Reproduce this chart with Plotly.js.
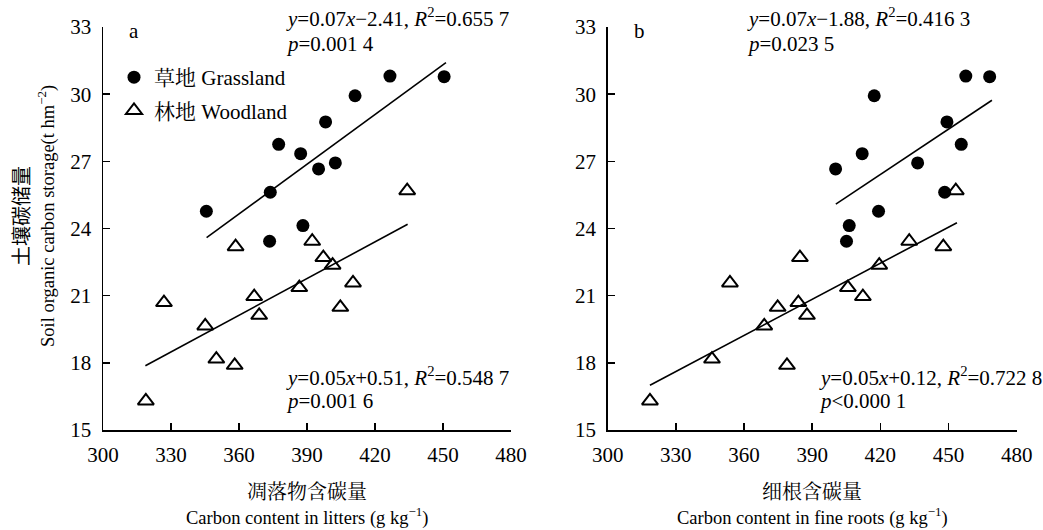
<!DOCTYPE html>
<html>
<head>
<meta charset="utf-8">
<script src="https://cdn.plot.ly/plotly-3.0.1.min.js"></script>
<style>html,body{margin:0;padding:0;background:#fff;}#chart{width:1043px;height:530px;}</style>
</head>
<body>
<div id="chart"></div>
<script>
// Soil organic carbon storage (t hm^-2)
const grassSOC   = [24.77, 23.43, 25.62, 27.76, 27.34, 24.13, 26.66, 28.76, 26.93, 29.93, 30.81, 30.78];
const grassLitter = [345.6, 373.5, 373.8, 377.5, 387.2, 388.2, 395.1, 398.2, 402.5, 411.2, 426.6, 450.5];
const grassRoot   = [419.2, 405.1, 448.3, 455.6, 412.0, 406.3, 400.3, 449.3, 436.4, 417.3, 457.6, 468.1];

const woodSOC    = [16.30, 20.69, 19.65, 18.17, 17.89, 23.19, 20.96, 20.12, 21.36, 23.43, 22.70, 22.36, 20.48, 21.57, 25.69];
const woodLitter = [318.9, 326.9, 345.1, 350.0, 358.1, 358.5, 366.7, 368.9, 386.6, 392.3, 397.2, 401.3, 404.7, 410.3, 434.2];
const woodRoot   = [318.6, 383.9, 368.9, 345.9, 378.9, 447.7, 412.3, 387.7, 405.7, 432.7, 384.6, 419.5, 374.8, 353.8, 453.2];

// regression lines as drawn (end points)
const fitGrassLitterX = [345.7, 451.3], fitGrassLitterY = [23.59, 31.41];
const fitWoodLitterX  = [318.7, 434.4], fitWoodLitterY  = [17.87, 24.19];
const fitGrassRootX   = [400.4, 469.1], fitGrassRootY   = [25.09, 29.73];
const fitWoodRootX    = [318.6, 453.7], fitWoodRootY    = [17.00, 24.26];

const xTicks = [300, 330, 360, 390, 420, 450, 480];
const yTicks = [15, 18, 21, 24, 27, 30, 33];

const seriesNames = ['草地 Grassland', '林地 Woodland'];
const eqA = ['<i>y</i>=0.07<i>x</i>−2.41, <i>R</i><sup>2</sup>=0.655 7', '<i>p</i>=0.001 4',
             '<i>y</i>=0.05<i>x</i>+0.51, <i>R</i><sup>2</sup>=0.548 7', '<i>p</i>=0.001 6'];
const eqB = ['<i>y</i>=0.07<i>x</i>−1.88, <i>R</i><sup>2</sup>=0.416 3', '<i>p</i>=0.023 5',
             '<i>y</i>=0.05<i>x</i>+0.12, <i>R</i><sup>2</sup>=0.722 8', '<i>p</i>&lt;0.000 1'];

const FONT = '"Liberation Serif", "Noto Serif CJK SC", "Noto Sans CJK SC", serif';
const CJK = '"Noto Sans CJK SC", "Liberation Serif", sans-serif';
const W = 1043, H = 530;
const px = v => v / W, py = v => 1 - v / H;

const circle = {symbol: 'circle', size: 13, color: '#000'};
const tri = {symbol: 'triangle-up-open', size: 14, color: '#000', line: {width: 2, color: '#000'}};
const lineStyle = {color: '#000', width: 1.6};

const traces = [
  {x: grassLitter, y: grassSOC, mode: 'markers', marker: circle, name: seriesNames[0], legendgroup: 'g', xaxis: 'x', yaxis: 'y'},
  {x: woodLitter, y: woodSOC, mode: 'markers', marker: tri, name: seriesNames[1], legendgroup: 'w', xaxis: 'x', yaxis: 'y'},
  {x: fitGrassLitterX, y: fitGrassLitterY, mode: 'lines', line: lineStyle, showlegend: false, xaxis: 'x', yaxis: 'y'},
  {x: fitWoodLitterX, y: fitWoodLitterY, mode: 'lines', line: lineStyle, showlegend: false, xaxis: 'x', yaxis: 'y'},
  {x: grassRoot, y: grassSOC, mode: 'markers', marker: circle, showlegend: false, xaxis: 'x2', yaxis: 'y2'},
  {x: woodRoot, y: woodSOC, mode: 'markers', marker: tri, showlegend: false, xaxis: 'x2', yaxis: 'y2'},
  {x: fitGrassRootX, y: fitGrassRootY, mode: 'lines', line: lineStyle, showlegend: false, xaxis: 'x2', yaxis: 'y2'},
  {x: fitWoodRootX, y: fitWoodRootY, mode: 'lines', line: lineStyle, showlegend: false, xaxis: 'x2', yaxis: 'y2'}
];

const axCommon = {
  showline: true, linecolor: '#000', linewidth: 1.5, mirror: false,
  ticks: 'inside', ticklen: 7, tickwidth: 1.5, tickcolor: '#000',
  showgrid: false, zeroline: false, fixedrange: true,
  tickfont: {family: FONT, size: 21, color: '#000'}
};
const xAx = Object.assign({}, axCommon, {range: [300, 480], tickvals: xTicks, ticktext: xTicks.map(String), ticklabelstandoff: 5});
const yAx = Object.assign({}, axCommon, {range: [15, 33], tickvals: yTicks, ticktext: yTicks.map(String), ticklabelstandoff: 6});

const txt = (x, y, text, extra) => Object.assign({xref: 'paper', yref: 'paper', x: px(x), y: py(y), text: text,
  showarrow: false, xanchor: 'left', yanchor: 'middle', font: {family: FONT, size: 21, color: '#000'}}, extra || {});

const annotations = [
  txt(127, 31, 'a'), txt(632, 31, 'b'),
  txt(284, 18, eqA[0]), txt(284, 44, eqA[1]),
  txt(284, 376, eqA[2]), txt(284, 401, eqA[3]),
  txt(745, 18, eqB[0]), txt(745, 44, eqB[1]),
  txt(817, 376, eqB[2]), txt(817, 401, eqB[3]),
  txt(307, 492, '凋落物含碳量', {xanchor: 'center', font: {family: FONT, size: 20, color: '#000'}}),
  txt(307, 516, 'Carbon content in litters (g kg<sup>−1</sup>)', {xanchor: 'center', font: {family: FONT, size: 18.5, color: '#000'}}),
  txt(812, 492, '细根含碳量', {xanchor: 'center', font: {family: FONT, size: 20, color: '#000'}}),
  txt(812, 516, 'Carbon content in fine roots (g kg<sup>−1</sup>)', {xanchor: 'center', font: {family: FONT, size: 18.5, color: '#000'}}),
  txt(20, 216, '土壤碳储量', {xanchor: 'center', textangle: -90, font: {family: CJK, size: 20, color: '#000'}}),
  txt(46, 216, 'Soil organic carbon storage(t hm<sup>−2</sup>)', {xanchor: 'center', textangle: -90, font: {family: FONT, size: 18.5, color: '#000'}})
];

const layout = {
  width: W, height: H,
  margin: {l: 0, r: 0, t: 0, b: 0},
  paper_bgcolor: '#fff', plot_bgcolor: '#fff',
  font: {family: FONT, size: 21, color: '#000'},
  xaxis: Object.assign({}, xAx, {domain: [px(103), px(511)], anchor: 'y'}),
  yaxis: Object.assign({}, yAx, {domain: [py(430), py(27)], anchor: 'x'}),
  xaxis2: Object.assign({}, xAx, {domain: [px(607.7), px(1016.7)], anchor: 'y2'}),
  yaxis2: Object.assign({}, yAx, {domain: [py(430), py(27)], anchor: 'x2'}),
  showlegend: true,
  legend: {x: px(114), y: py(57), xanchor: 'left', yanchor: 'top', bgcolor: 'rgba(0,0,0,0)',
           font: {family: FONT, size: 21, color: '#000'}, traceorder: 'grouped', tracegroupgap: 3, itemwidth: 30},
  annotations: annotations
};

Plotly.newPlot('chart', traces, layout, {staticPlot: true, displayModeBar: false});
</script>
</body>
</html>
